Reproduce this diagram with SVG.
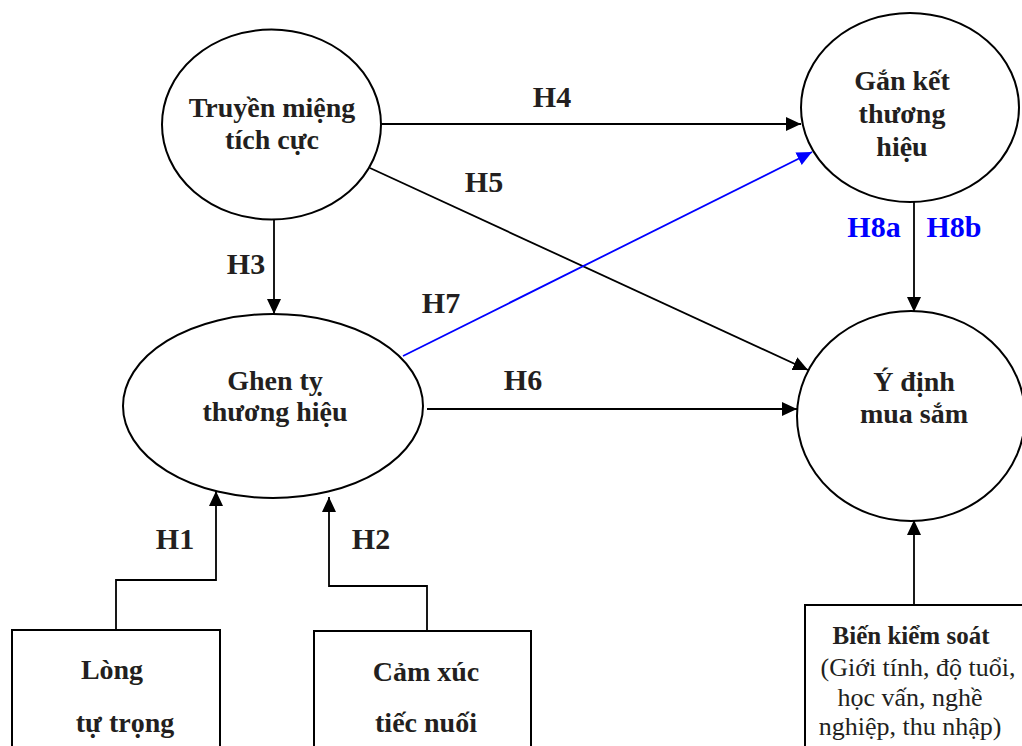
<svg xmlns="http://www.w3.org/2000/svg" width="1022" height="746" viewBox="0 0 1022 746">
<defs>
<style>
.node{fill:#fff;stroke:#000;stroke-width:2}
.box{fill:#fff;stroke:#000;stroke-width:2}
.t{font-family:"Liberation Serif","Times New Roman",serif;font-weight:bold;font-size:28px;fill:#231f20;text-anchor:middle}
.lbl{font-family:"Liberation Serif","Times New Roman",serif;font-weight:bold;font-size:30px;fill:#231f20;text-anchor:middle}
.blbl{font-family:"Liberation Serif","Times New Roman",serif;font-weight:bold;font-size:30px;fill:#0000ff;text-anchor:middle}
.r{font-family:"Liberation Serif","Times New Roman",serif;font-size:26px;fill:#231f20;text-anchor:middle}
.c{fill:none;stroke:#000;stroke-width:1.8}
.cb{fill:none;stroke:#0000ff;stroke-width:1.8}
</style>
<marker id="ah" markerUnits="userSpaceOnUse" markerWidth="16" markerHeight="14" refX="15" refY="7" orient="auto">
<path d="M0,0 L15,7 L0,14 z" fill="#000"/>
</marker>
<marker id="ahb" markerUnits="userSpaceOnUse" markerWidth="16" markerHeight="14" refX="15" refY="7" orient="auto">
<path d="M0,0 L15,7 L0,14 z" fill="#0000ff"/>
</marker>
</defs>
<rect width="1022" height="746" fill="#fff"/>
<g id="connectors">
<line class="c" x1="381" y1="124" x2="801" y2="124" marker-end="url(#ah)"/>
<line class="c" x1="370" y1="168" x2="808" y2="370" marker-end="url(#ah)"/>
<line class="c" x1="274" y1="219" x2="274" y2="314" marker-end="url(#ah)"/>
<line class="cb" x1="403" y1="356" x2="812" y2="152" marker-end="url(#ahb)"/>
<line class="c" x1="427" y1="409" x2="797" y2="409" marker-end="url(#ah)"/>
<line class="c" x1="914" y1="202" x2="914" y2="312" marker-end="url(#ah)"/>
<line class="c" x1="914" y1="605" x2="914" y2="520" marker-end="url(#ah)"/>
<polyline class="c" points="116,630 116,580 216,580 216,491" marker-end="url(#ah)"/>
<polyline class="c" points="427,631 427,586 329,586 329,497" marker-end="url(#ah)"/>
<text class="lbl" x="552" y="107">H4</text>
<text class="lbl" x="484" y="192">H5</text>
<text class="lbl" x="246" y="274">H3</text>
<text class="lbl" x="441" y="313">H7</text>
<text class="lbl" x="523" y="390">H6</text>
<text class="blbl" x="874" y="237">H8a</text>
<text class="blbl" x="954" y="237">H8b</text>
<text class="lbl" x="175" y="549">H1</text>
<text class="lbl" x="371" y="549">H2</text>
</g>
<g id="truyen-mieng">
<ellipse class="node" cx="271.5" cy="124.5" rx="109.5" ry="95"/>
<text class="t" x="272" y="117">Truyền miệng</text>
<text class="t" x="272" y="149">tích cực</text>
</g>
<g id="gan-ket">
<ellipse class="node" cx="910" cy="107.5" rx="109" ry="94.5"/>
<text class="t" x="902" y="90">Gắn kết</text>
<text class="t" x="902" y="123">thương</text>
<text class="t" x="902" y="156">hiệu</text>
</g>
<g id="ghen-ty">
<ellipse class="node" cx="273" cy="406" rx="150" ry="92"/>
<text class="t" x="275" y="390">Ghen tỵ</text>
<text class="t" x="275" y="421">thương hiệu</text>
</g>
<g id="y-dinh">
<ellipse class="node" cx="911" cy="416" rx="114" ry="105"/>
<text class="t" x="914" y="391">Ý định</text>
<text class="t" x="914" y="423">mua sắm</text>
</g>
<g id="long-tu-trong">
<rect class="box" x="12" y="630" width="208" height="130"/>
<text class="t" x="112" y="679">Lòng</text>
<text class="t" x="125" y="732">tự trọng</text>
</g>
<g id="cam-xuc">
<rect class="box" x="314" y="631" width="217" height="130"/>
<text class="t" x="426" y="681">Cảm xúc</text>
<text class="t" x="426" y="732">tiếc nuối</text>
</g>
<g id="bien-kiem-soat">
<rect class="box" x="805" y="605" width="230" height="160"/>
<text class="t" x="911" y="644" style="font-size:25px">Biến kiểm soát</text>
<text class="r" x="918" y="676">(Giới tính, độ tuổi,</text>
<text class="r" x="910" y="706">học vấn, nghề</text>
<text class="r" x="910" y="735">nghiệp, thu nhập)</text>
</g>
</svg>
